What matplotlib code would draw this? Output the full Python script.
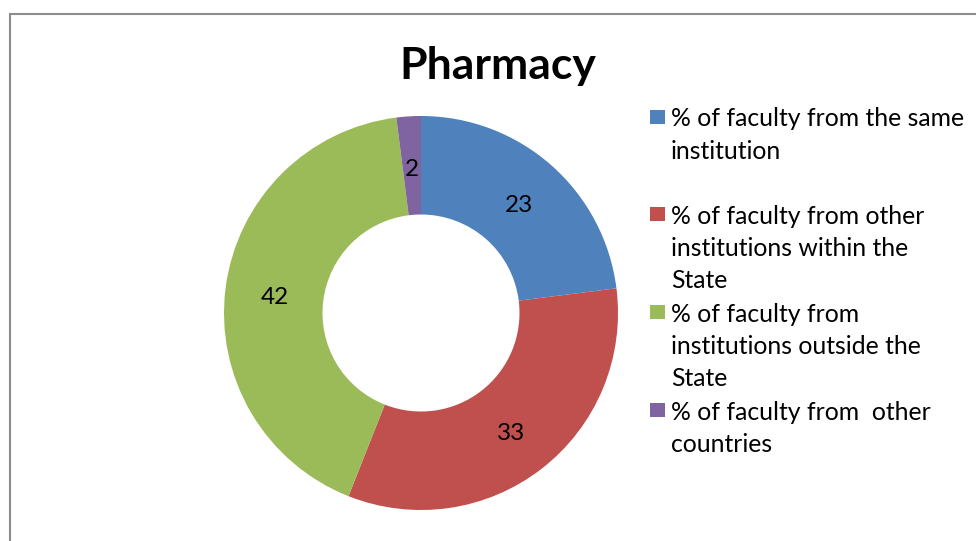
import matplotlib
matplotlib.use("Agg")
import matplotlib.pyplot as plt
from matplotlib.patches import Rectangle
from matplotlib.transforms import offset_copy

title = "Pharmacy"
categories = [
    "% of faculty from the same\ninstitution",
    "% of faculty from other\ninstitutions within the\nState",
    "% of faculty from\ninstitutions outside the\nState",
    "% of faculty from  other\ncountries",
]
values = [23, 33, 42, 2]
colors = ["#4F81BD", "#C0504D", "#9BBB59", "#8064A2"]

FONT = ["Lato", "DejaVu Sans"]
W, H = 976, 541
fig = plt.figure(figsize=(W / 100, H / 100), dpi=100)
fig.patch.set_facecolor("white")

# outer border
fig.patches.append(Rectangle((9.5 / W, -1), 2, (H - 13.5) / H + 1,
                             transform=fig.transFigure, fill=False,
                             edgecolor="#8c8c8c", linewidth=1.5, clip_on=False))

cx, cy, R = 421, 313, 197
ax = fig.add_axes([(cx - R) / W, (H - cy - R) / H, 2 * R / W, 2 * R / H])
wedges, texts, autotexts = ax.pie(
    values, colors=colors, startangle=90, counterclock=False, radius=1,
    wedgeprops=dict(width=0.5, linewidth=0),
    autopct=lambda p: f"{p * sum(values) / 100:.0f}", pctdistance=0.75,
    textprops=dict(fontsize=17.5, family=FONT, color="black"))
for t in autotexts:
    t.set_transform(offset_copy(ax.transData, fig=fig, x=0, y=-3.5, units="dots"))
ax.set_xlim(-1, 1)
ax.set_ylim(-1, 1)
ax.set_aspect("equal")
ax.axis("off")

fig.text(498 / W, 1 - 66 / H, title, ha="center", va="center",
         fontsize=32, fontweight="bold", family=FONT)

# legend drawn manually
entry_y = [117, 214, 312, 410]
line_h = 32.5
for lab, col, y0 in zip(categories, colors, entry_y):
    fig.patches.append(Rectangle((650 / W, 1 - (y0 + 7) / H), 15 / W, 14 / H,
                                 transform=fig.transFigure, facecolor=col,
                                 edgecolor="none"))
    for i, line in enumerate(lab.split("\n")):
        fig.text(671 / W, 1 - (y0 + i * line_h) / H, line, ha="left",
                 va="center_baseline", fontsize=17.8, family=FONT)

fig.savefig("out.png", dpi=100, facecolor="white")
